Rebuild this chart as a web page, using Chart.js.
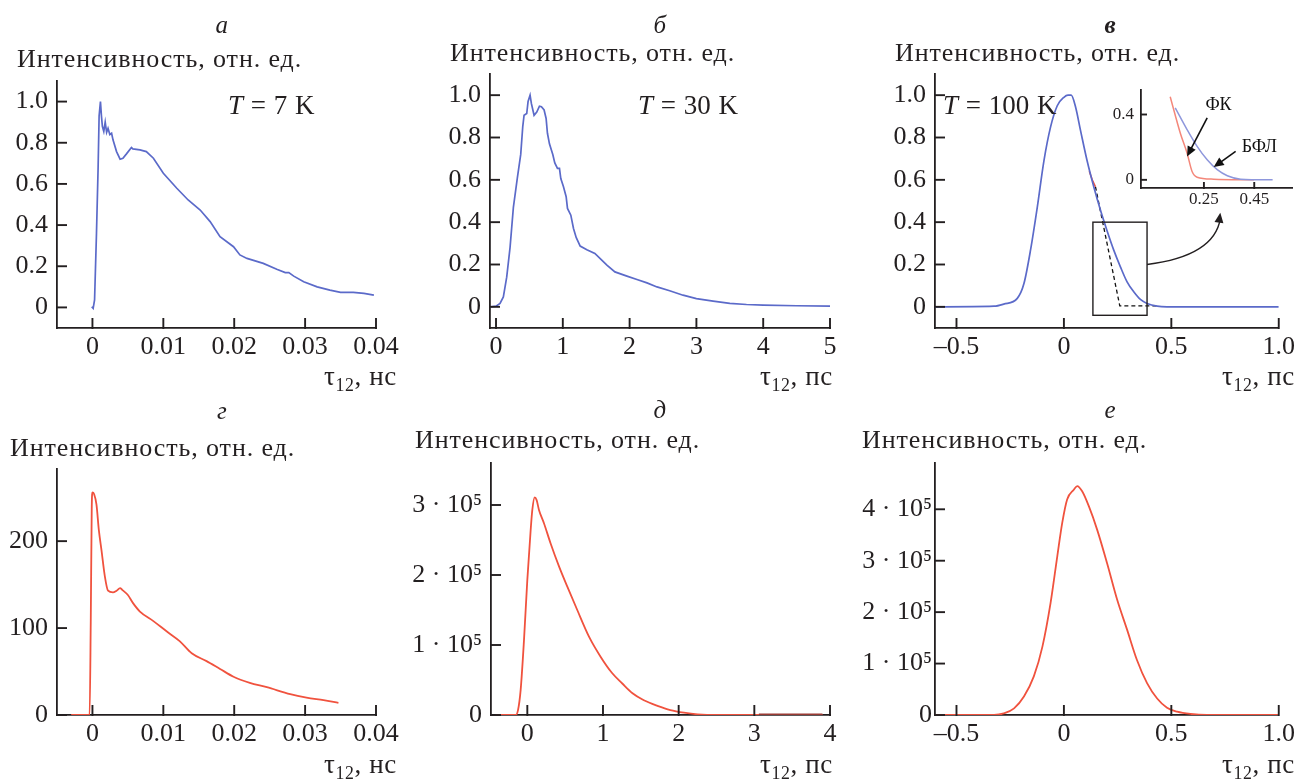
<!DOCTYPE html>
<html>
<head>
<meta charset="utf-8">
<script src="https://cdn.jsdelivr.net/npm/chart.js@4.4.1/dist/chart.umd.min.js"></script>
<style>
  body { margin: 0; width: 1299px; height: 779px; overflow: hidden; background: #fff; position: relative;
         font-family: "Liberation Serif", "Times New Roman", serif; color: #231f20; }
  canvas { position: absolute; left: 0; top: 0; }
  .t { position: absolute; white-space: nowrap; line-height: 1; }
  .t sub { font-size: 0.66em; vertical-align: -0.34em; line-height: 0; }
</style>
</head>
<body>
<canvas id="pa" width="1299" height="779"></canvas>
<canvas id="pb" width="1299" height="779"></canvas>
<canvas id="pv" width="1299" height="779"></canvas>
<canvas id="pg" width="1299" height="779"></canvas>
<canvas id="pd" width="1299" height="779"></canvas>
<canvas id="pe" width="1299" height="779"></canvas>
<canvas id="pin" width="1299" height="779"></canvas>
<script>
// ---- data ----
// а: T = 7 K, blue, tau12 in ns
const aTime = [-0.0001,0.0001,0.0003,0.00057,0.0008,0.00094,0.00113,0.00127,0.0014,0.0016,0.0018,0.002,0.0022,0.00245,0.0027,0.0029,0.0034,0.0039,0.0043,0.0048,0.0055,0.0057,0.0067,0.0076,0.0086,0.01,0.0119,0.0135,0.0152,0.0166,0.018,0.0199,0.0208,0.0218,0.0241,0.026,0.0272,0.0277,0.0284,0.0298,0.0317,0.0335,0.035,0.0368,0.0383,0.0397];
const aInt  = [0.003,-0.005,0.036,0.36,0.68,0.93,1.0,0.93,0.88,0.855,0.90,0.85,0.87,0.84,0.846,0.814,0.757,0.72,0.725,0.746,0.777,0.77,0.765,0.757,0.725,0.652,0.579,0.522,0.473,0.417,0.344,0.295,0.255,0.238,0.214,0.185,0.169,0.169,0.152,0.125,0.10,0.084,0.073,0.073,0.068,0.06];

// б: T = 30 K, blue, ps
const bTime = [-0.08,0,0.06,0.11,0.16,0.21,0.26,0.32,0.37,0.40,0.42,0.46,0.48,0.51,0.53,0.57,0.61,0.65,0.68,0.72,0.75,0.77,0.80,0.85,0.88,0.92,0.95,0.97,1.01,1.05,1.07,1.12,1.16,1.2,1.26,1.36,1.48,1.56,1.66,1.78,1.96,2.11,2.26,2.41,2.6,2.8,3.0,3.25,3.5,3.75,4.0,4.5,5.0];
const bInt  = [0,0.003,0.016,0.047,0.14,0.28,0.47,0.61,0.72,0.85,0.905,0.913,0.97,1.0,0.96,0.905,0.92,0.948,0.945,0.93,0.89,0.82,0.77,0.72,0.68,0.654,0.654,0.606,0.567,0.52,0.465,0.433,0.37,0.328,0.287,0.27,0.252,0.228,0.197,0.165,0.145,0.129,0.113,0.094,0.076,0.055,0.039,0.027,0.016,0.011,0.008,0.005,0.003];

// в: T = 100 K, blue (БФЛ), red (ФК) piece and dashed guide
const vTime = [-0.6,-0.325,-0.28,-0.217,-0.186,-0.155,-0.124,-0.093,-0.062,-0.031,0,0.019,0.034,0.054,0.077,0.108,0.139,0.17,0.2,0.232,0.263,0.294,0.325,0.356,0.387,0.434,0.48,1.0];
const vInt  = [0,0.003,0.013,0.04,0.11,0.27,0.47,0.69,0.85,0.95,0.99,1.0,1.0,0.945,0.835,0.69,0.567,0.457,0.362,0.268,0.189,0.118,0.071,0.035,0.016,0.003,0,0];
const vRedTime = [0.118,0.132,0.147];
const vRedInt  = [0.64,0.6,0.567];
const vDashTime = [0.147,0.26,0.43];
const vDashInt  = [0.567,0.005,0.005];

// inset of в
const inBlueTime = [0.136,0.183,0.223,0.263,0.303,0.343,0.396,0.523];
const inBlueInt  = [0.441,0.308,0.205,0.123,0.062,0.025,0.004,0];
const inRedTime  = [0.116,0.156,0.183,0.203,0.223,0.289,0.449];
const inRedInt   = [0.509,0.287,0.164,0.051,0.016,0.004,0];

// г: red, ns
const gTime = [-0.003,-0.0004,-0.00024,-0.0001,0,0.00024,0.00057,0.0009,0.00127,0.00174,0.0022,0.0029,0.0034,0.0039,0.0042,0.005,0.0057,0.0067,0.0086,0.0105,0.0123,0.014,0.0161,0.018,0.0199,0.0222,0.0246,0.0279,0.0302,0.0326,0.0347];
const gInt  = [0,0,106,237,256,254,242,213,190,160,143,141,143,146,144,138,129,119,108,96,85,71,62,53,44,37,32,24,20,17,14];

// д: red, ps
const dTime = [-0.42,-0.154,-0.123,-0.088,-0.044,0,0.044,0.066,0.097,0.123,0.154,0.22,0.308,0.42,0.53,0.66,0.815,0.97,1.12,1.255,1.39,1.54,1.72,1.89,2.07,2.25,2.51,3.9];
const dInt  = [0,0,0.07e5,0.36e5,1.07e5,1.93e5,2.64e5,2.93e5,3.11e5,3.07e5,2.93e5,2.74e5,2.45e5,2.12e5,1.83e5,1.5e5,1.12e5,0.83e5,0.6e5,0.45e5,0.31e5,0.21e5,0.13e5,0.07e5,0.033e5,0.01e5,0,0];
const dDarkTime = [3.06,3.9];
const dDarkInt  = [0,0];

// е: red, ps
const eTime = [-0.6,-0.325,-0.28,-0.232,-0.186,-0.14,-0.1,-0.062,-0.031,-0.008,0.015,0.046,0.062,0.085,0.116,0.155,0.201,0.248,0.294,0.34,0.387,0.434,0.48,0.527,0.589,0.666,1.0];
const eInt  = [0,0,0.03e5,0.13e5,0.36e5,0.75e5,1.33e5,2.18e5,3.08e5,3.73e5,4.19e5,4.38e5,4.45e5,4.35e5,4.06e5,3.6e5,2.95e5,2.24e5,1.66e5,1.07e5,0.62e5,0.32e5,0.14e5,0.065e5,0.02e5,0,0];

// ticks
const yTicksNorm = [0,0.2,0.4,0.6,0.8,1.0];
const yLabelsNorm = ['0','0.2','0.4','0.6','0.8','1.0'];
const xTicksNs = [0,0.01,0.02,0.03,0.04];
const xLabelsNs = ['0','0.01','0.02','0.03','0.04'];
const xTicksB = [0,1,2,3,4,5];
const xTicksV = [-0.5,0,0.5,1.0];
const xLabelsV = ['\u20130.5','0','0.5','1.0'];
const yTicksG = [0,100,200];
const xTicksD = [0,1,2,3,4];
const yTicksD = [0,1e5,2e5,3e5];
const yLabelsD = ['0','1 \u00b7 10\u2075','2 \u00b7 10\u2075','3 \u00b7 10\u2075'];
const yTicksE = [0,1e5,2e5,3e5,4e5];
const yLabelsE = ['0','1 \u00b7 10\u2075','2 \u00b7 10\u2075','3 \u00b7 10\u2075','4 \u00b7 10\u2075'];
const inXTicks = [0.25,0.45];
const inYTicks = [0,0.4];

const panelLetters = ['а','б','в','г','д','е'];
const yTitle = 'Интенсивность, отн. ед.';

const BLUE = '#5b6ac9';
const RED = '#f0523e';
const INK = '#231f20';
const FONT = '"Liberation Serif", "Times New Roman", serif';

function zip(xs, ys) { return xs.map((x, i) => ({ x: x, y: ys[i] })); }

function arrowHead(ctx, x1, y1, x2, y2, len, wid) {
  const ang = Math.atan2(y2 - y1, x2 - x1);
  ctx.beginPath();
  ctx.moveTo(x2, y2);
  ctx.lineTo(x2 - len * Math.cos(ang) + wid * Math.sin(ang), y2 - len * Math.sin(ang) - wid * Math.cos(ang));
  ctx.lineTo(x2 - len * Math.cos(ang) - wid * Math.sin(ang), y2 - len * Math.sin(ang) + wid * Math.cos(ang));
  ctx.closePath();
  ctx.fill();
}

// zoom box + curved arrow on panel в (in data coordinates)
function drawZoomBox(chart) {
  const ctx = chart.ctx, xs = chart.scales.x, ys = chart.scales.y;
  const X = v => xs.getPixelForValue(v), Y = v => ys.getPixelForValue(v);
  ctx.save();
  ctx.strokeStyle = INK; ctx.fillStyle = INK; ctx.lineWidth = 1.4;
  ctx.strokeRect(X(0.135), Y(0.40), X(0.387) - X(0.135), Y(-0.04) - Y(0.40));
  const sx = X(0.387), sy = Y(0.2), cx = X(0.70), cy = Y(0.24), ex = X(0.728), ey = Y(0.445);
  ctx.beginPath();
  ctx.moveTo(sx, sy);
  ctx.quadraticCurveTo(cx, cy, ex, ey + 6);
  ctx.stroke();
  arrowHead(ctx, cx, cy, ex, ey, 10, 4.5);
  ctx.restore();
}

// arrows and labels of the inset
function drawInsetNotes(chart) {
  const ctx = chart.ctx, xs = chart.scales.x, ys = chart.scales.y;
  const X = v => xs.getPixelForValue(v), Y = v => ys.getPixelForValue(v);
  ctx.save();
  ctx.strokeStyle = '#111'; ctx.fillStyle = '#111'; ctx.lineWidth = 1.6;
  [[0.263,0.38,0.183,0.143],[0.376,0.174,0.289,0.078]].forEach(a => {
    const x1 = X(a[0]), y1 = Y(a[1]), x2 = X(a[2]), y2 = Y(a[3]);
    const ang = Math.atan2(y2 - y1, x2 - x1);
    ctx.beginPath(); ctx.moveTo(x1, y1); ctx.lineTo(x2 - 6 * Math.cos(ang), y2 - 6 * Math.sin(ang)); ctx.stroke();
    arrowHead(ctx, x1, y1, x2, y2, 10, 4.5);
  });
  ctx.font = '18px ' + FONT;
  ctx.textAlign = 'center'; ctx.textBaseline = 'middle';
  ctx.fillText('ФК', X(0.308), Y(0.455));
  ctx.fillText('БФЛ', X(0.47), Y(0.2));
  ctx.restore();
}

const X_H = 44;

function makePanel(id, area, xr, yr, xt, xl, yt, yl, datasets, extra) {
  extra = extra || {};
  const fs = extra.fontSize || 26;
  const yW = Math.min(area.l, 120);
  const tickLen = extra.tickLen || 10;
  // tick marks pointing into the plot + panel notes
  const marks = {
    id: 'marks_' + id,
    afterDatasetsDraw(chart) {
      const ctx = chart.ctx, a = chart.chartArea;
      const xs = chart.scales.x, ys = chart.scales.y;
      ctx.save();
      ctx.strokeStyle = INK; ctx.lineWidth = 1.9; ctx.lineCap = 'butt';
      xt.forEach(v => {
        const p = xs.getPixelForValue(v);
        ctx.beginPath(); ctx.moveTo(p, a.bottom + 1); ctx.lineTo(p, a.bottom - tickLen); ctx.stroke();
      });
      yt.forEach(v => {
        const p = ys.getPixelForValue(v);
        ctx.beginPath(); ctx.moveTo(a.left - 1, p); ctx.lineTo(a.left + tickLen, p); ctx.stroke();
      });
      ctx.restore();
      if (extra.zoomBox) drawZoomBox(chart);
      if (extra.insetNotes) drawInsetNotes(chart);
    }
  };
  return new Chart(document.getElementById(id), {
    type: 'line',
    data: { datasets: datasets },
    plugins: [marks],
    options: {
      responsive: false,
      animation: false,
      events: [],
      layout: { padding: { left: area.l - yW, top: area.t, right: 1299 - area.r, bottom: 779 - area.b - X_H } },
      plugins: { legend: { display: false }, tooltip: { enabled: false } },
      elements: { point: { radius: 0 } },
      scales: {
        x: {
          type: 'linear', min: xr[0], max: xr[1],
          afterBuildTicks: s => { s.ticks = xt.map(v => ({ value: v })); },
          afterFit: s => { s.height = X_H; },
          grid: { display: false, drawTicks: false },
          border: { display: true, color: INK, width: 1.8 },
          ticks: { color: INK, padding: extra.xPad === undefined ? 4 : extra.xPad, maxRotation: 0, autoSkip: false,
                   font: { family: FONT, size: fs },
                   callback: (v, i) => xl[i] }
        },
        y: {
          type: 'linear', min: yr[0], max: yr[1],
          afterBuildTicks: s => { s.ticks = yt.map(v => ({ value: v })); },
          afterFit: s => { s.width = yW; },
          grid: { display: false, drawTicks: false },
          border: { display: true, color: INK, width: 1.8 },
          ticks: { color: INK, padding: extra.yPad === undefined ? 9 : extra.yPad, autoSkip: false,
                   font: { family: FONT, size: fs },
                   callback: (v, i) => yl[i] }
        }
      }
    }
  });
}

function line(data, color, width, opts) {
  return Object.assign({ data: data, borderColor: color, borderWidth: width, fill: false, pointRadius: 0, tension: 0 }, opts || {});
}

const xLabelsB = xTicksB.map(String);
const xLabelsD = xTicksD.map(String);
const yLabelsG = yTicksG.map(String);

makePanel('pa', { l: 57, r: 376, t: 81, b: 328 }, [-0.005, 0.04], [-0.1, 1.1],
  xTicksNs, xLabelsNs, yTicksNorm, yLabelsNorm,
  [line(zip(aTime, aInt), BLUE, 1.7)]);

makePanel('pb', { l: 490, r: 830, t: 74, b: 328 }, [-0.09, 5], [-0.1, 1.1],
  xTicksB, xLabelsB, yTicksNorm, yLabelsNorm,
  [line(zip(bTime, bInt), BLUE, 1.7)]);

makePanel('pv', { l: 935, r: 1279, t: 74, b: 328 }, [-0.6, 1.0], [-0.1, 1.1],
  xTicksV, xLabelsV, yTicksNorm, yLabelsNorm,
  [line(zip(vTime, vInt), BLUE, 1.7, { cubicInterpolationMode: 'monotone' }),
   line(zip(vRedTime, vRedInt), RED, 1.5),
   line(zip(vDashTime, vDashInt), '#111', 1.3, { borderDash: [4, 3] })],
  { zoomBox: true });

makePanel('pg', { l: 57, r: 376, t: 469, b: 715 }, [-0.005, 0.04], [0, 283],
  xTicksNs, xLabelsNs, yTicksG, yLabelsG,
  [line(zip(gTime, gInt), RED, 1.8, { cubicInterpolationMode: 'monotone' })]);

makePanel('pd', { l: 491, r: 830, t: 463, b: 715 }, [-0.48, 4], [0, 3.6e5],
  xTicksD, xLabelsD, yTicksD, yLabelsD,
  [line(zip(dDarkTime, dDarkInt), '#9a3a34', 3),
   line(zip(dTime, dInt), RED, 1.8, { cubicInterpolationMode: 'monotone' })],
  { yPad: 9 });

makePanel('pe', { l: 935, r: 1279, t: 463, b: 715 }, [-0.6, 1.0], [0, 4.9e5],
  xTicksV, xLabelsV, yTicksE, yLabelsE,
  [line(zip(eTime, eInt), RED, 1.8, { cubicInterpolationMode: 'monotone' })],
  { yPad: 3 });

makePanel('pin', { l: 1141, r: 1292, t: 90, b: 188 }, [0, 0.6], [-0.05, 0.55],
  inXTicks, inXTicks.map(String), inYTicks, inYTicks.map(String),
  [line(zip(inBlueTime, inBlueInt), '#8e97dc', 1.5, { cubicInterpolationMode: 'monotone' }),
   line(zip(inRedTime, inRedInt), '#f4877a', 1.5, { cubicInterpolationMode: 'monotone' })],
  { fontSize: 17, tickLen: 6, xPad: 1, yPad: 7, insetNotes: true });

// ---- text ----
function addText(html, x, base, align, size, style) {
  const d = document.createElement('div');
  d.className = 't';
  d.innerHTML = html;
  d.style.fontSize = size + 'px';
  d.style.top = (base - 0.84 * size) + 'px';
  if (style) d.style.cssText += style;
  document.body.appendChild(d);
  if (align === 'right') d.style.left = (x - d.offsetWidth) + 'px';
  else if (align === 'center') d.style.left = (x - d.offsetWidth / 2) + 'px';
  else d.style.left = x + 'px';
}

const letterPos = [[222, 33], [660, 33], [1110, 33], [222, 419], [660, 418], [1110, 418]];
panelLetters.forEach((s, i) => addText(s, letterPos[i][0], letterPos[i][1], 'center', 25,
  'font-style:italic;' + (i === 2 ? 'font-weight:bold;' : '')));

[[17, 68], [450, 62], [895, 62], [10, 457], [415, 449], [862, 449]].forEach(p =>
  addText(yTitle, p[0], p[1], 'left', 26, 'letter-spacing:0.9px;'));

addText('<i>T</i> = 7 K', 228, 115, 'left', 27, 'word-spacing:1px;');
addText('<i>T</i> = 30 K', 638, 115, 'left', 27, 'word-spacing:1px;');
addText('<i>T</i> = 100 K', 943, 115, 'left', 27, 'word-spacing:1px;');

[[397, 386, 'нс'], [833, 386, 'пс'], [1295, 386, 'пс'], [397, 774, 'нс'], [833, 774, 'пс'], [1295, 774, 'пс']].forEach(p =>
  addText('\u03c4<sub>12</sub>, ' + p[2], p[0], p[1], 'right', 27, 'letter-spacing:0.6px;'));
</script>
</body>
</html>
